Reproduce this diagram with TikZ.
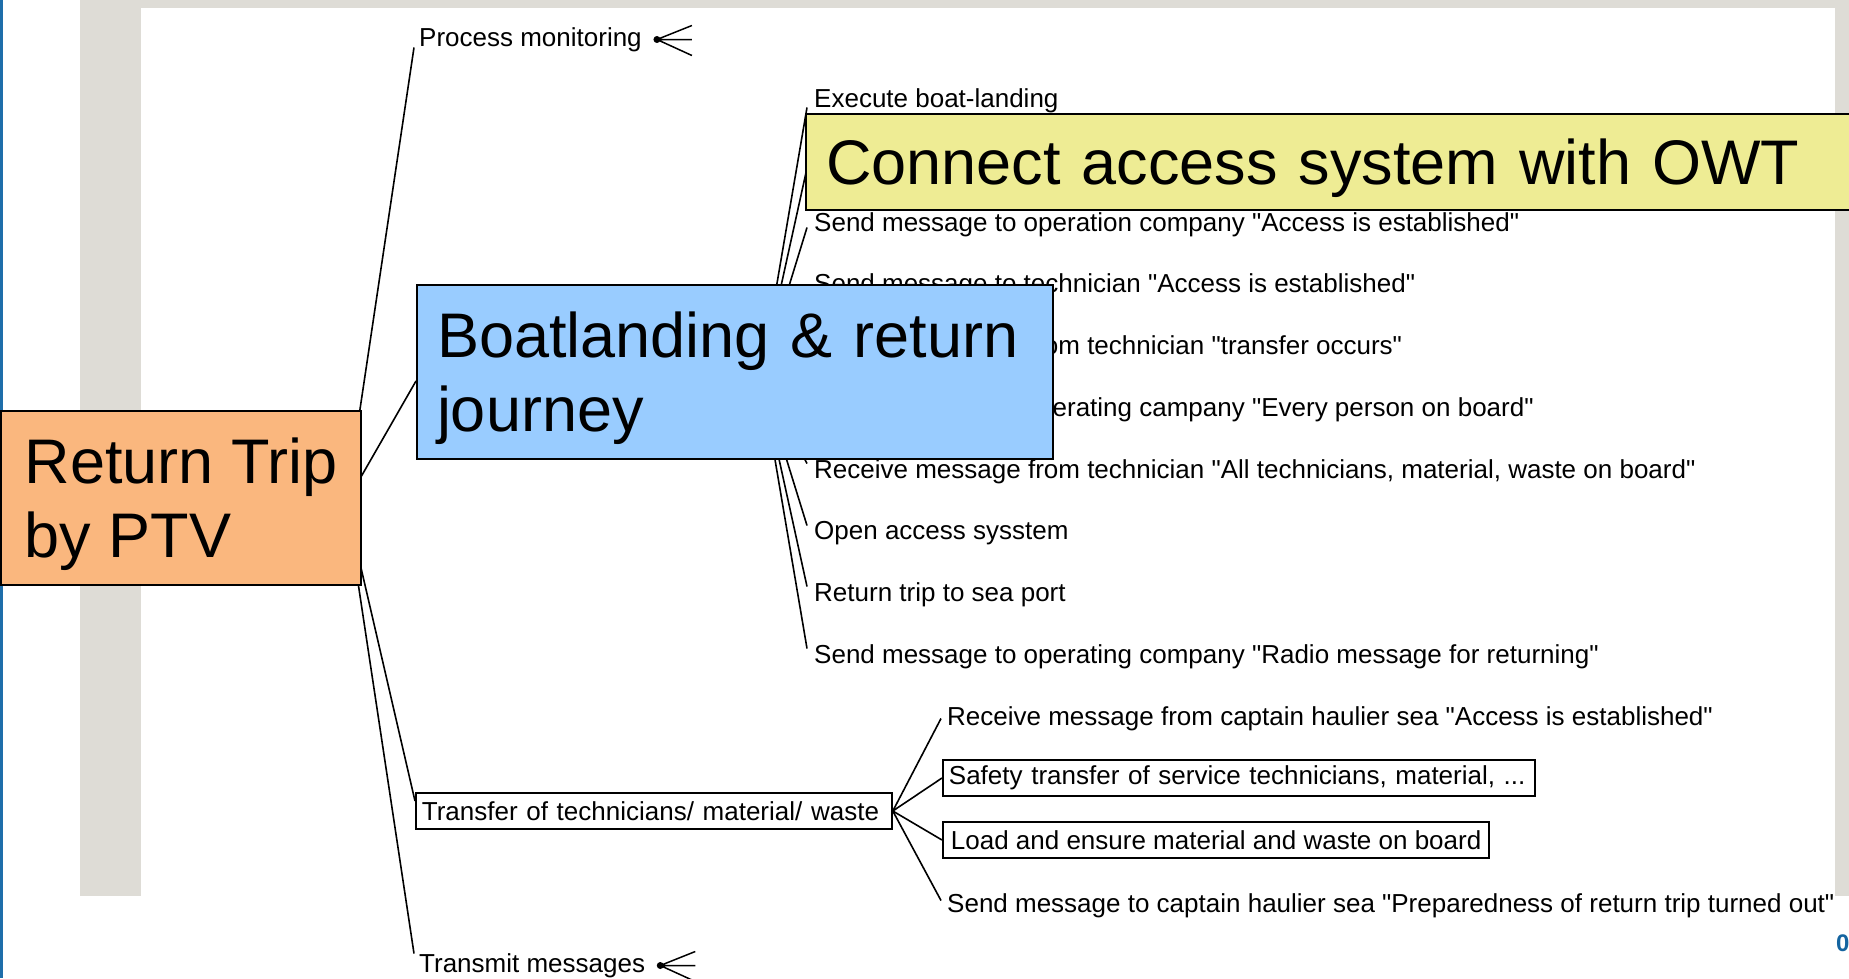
\documentclass[tikz,border=0pt]{standalone}
\usepackage{fontspec}
\setmainfont{Liberation Sans}
\newfontfamily\lblfamily{Liberation Sans}
\usetikzlibrary{calc}
\pgfdeclarelayer{bg}
\pgfdeclarelayer{lines}
\pgfsetlayers{bg,lines,main}
\definecolor{panelgray}{RGB}{222,220,214}
\definecolor{edgeblue}{RGB}{30,110,170}
\definecolor{rootorange}{RGB}{250,183,126}
\definecolor{blblue}{RGB}{153,204,255}
\definecolor{owtyellow}{RGB}{238,236,148}
\definecolor{numblue}{RGB}{20,100,160}
\newcommand\smallfnt{\lblfamily\fontsize{26}{30}\selectfont}
\newcommand\bigfnt{\fontsize{63}{74}\selectfont}
\newcommand\topstrut{\rule{0pt}{58pt}}
\begin{document}
\begin{tikzpicture}[x=1pt,y=-1pt,
  lblbase/.style={anchor=west, inner sep=2pt, font=\smallfnt, text=black},
  lbl/.style={lblbase, yshift=-2.5pt},
  sbox/.style={lblbase, draw, line width=1.8pt, fill=white, inner xsep=6pt, align=left, minimum height=36pt},
  conn/.style={line width=1.6pt},
  bigbox/.style={draw, line width=2pt, font=\bigfnt, align=left, anchor=north west},
  fanmark/.pic={\fill (0,0) circle (3.5); \draw[line width=1.5pt] (0,0) -- (35,-14) (0,0) -- (35,0) (0,0) -- (35,16);}
]
\useasboundingbox (0,0) rectangle (1849,978);

% small labels
\node[lbl] (pm) at (417,37) {Process monitoring};
\node[lbl] (c1) at (812,98) {Execute boat-landing};
\node[lbl] (c3) at (812,222) {Send message to operation company "Access is established"};
\node[lbl] (c4) at (812,283) {Send message to technician "Access is established"};
\node[lbl] (c5) at (812,345) {Receive message from technician "transfer occurs"};
\node[lbl] (c6) at (812,407) {Send message to operating campany "Every person on board"};
\node[lbl] (c7) at (812,469) {Receive message from technician "All technicians, material, waste on board"};
\node[lbl] (c8) at (812,531) {Open access sysstem};
\node[lbl] (c9) at (812,592) {Return trip to sea port};
\node[lbl] (c10) at (812,654) {Send message to operating company "Radio message for returning"};
\node[sbox, text width=464pt] (tr) at (415,811) {Transfer of technicians/ material/ waste};
\node[lbl] (t1) at (945,716) {Receive message from captain haulier sea "Access is established"};
\node[sbox, text width=580pt] (t2) at (942,778) {Safety transfer of service technicians, material, ...};
\node[sbox, inner xsep=8pt] (t3) at (942,840) {Load and ensure material and waste on board};
\node[lbl] (t4) at (945,903) {Send message to captain haulier sea "Preparedness of return trip turned out"};
\node[lbl] (tm) at (417,963) {Transmit messages};
\pic at ($(pm.east)+(13,0)$) {fanmark};
\pic at ($(tm.east)+(13,0)$) {fanmark};

% big boxes
\node[bigbox, fill=rootorange, minimum width=360pt, minimum height=174pt] (root) at (0,410) {\topstrut Return Trip\\by PTV};
\node[bigbox, fill=blblue, minimum width=636pt, minimum height=174pt, text width=596pt, inner xsep=0pt] (bl) at (416,284) {\topstrut Boatlanding \& return\\journey};
\node[bigbox, fill=owtyellow, minimum height=96pt, text width=1006pt, inner xsep=20pt] (owt) at (805,113) {\topstrut Connect access system with OWT};

\node[anchor=west, inner sep=0pt, font=\fontsize{24}{28}\selectfont\bfseries, text=numblue] (pg) at (1836,943) {0};

\begin{pgfonlayer}{bg}
  \fill[white] (0,0) rectangle (1849,978);
  \fill[edgeblue] (0,0) rectangle (2.5,978);
  \fill[panelgray] (80,0) rectangle (1849,896);
  \fill[white] (141,8) rectangle (1835,896);
\end{pgfonlayer}

\begin{pgfonlayer}{lines}
  \coordinate (ro) at (346,503);
  \draw[conn] (ro) -- ($(pm.west)+(-3,8)$);
  \draw[conn] (ro) -- ($(bl.west)+(0,9)$);
  \draw[conn] (ro) -- ($(tr.west)+(0,-10)$);
  \draw[conn] (ro) -- ($(tm.west)+(-3,-12)$);
  \coordinate (blo) at (761,377);
  \coordinate (hid) at (807,168);
  \draw[conn] (blo) -- ($(c1.west)+(-5,7)$);
  \draw[conn] (blo) -- (hid);
  \draw[conn] (blo) -- ($(c3.west)+(-5,3)$);
  \draw[conn] (blo) -- ($(c4.west)+(-5,3)$);
  \draw[conn] (blo) -- ($(c5.west)+(-5,1)$);
  \draw[conn] (blo) -- ($(c6.west)+(-5,-5)$);
  \draw[conn] (blo) -- ($(c7.west)+(-5,-8)$);
  \draw[conn] (blo) -- ($(c8.west)+(-5,-8)$);
  \draw[conn] (blo) -- ($(c9.west)+(-5,-8)$);
  \draw[conn] (blo) -- ($(c10.west)+(-5,-8)$);
  \draw[conn] (tr.east) -- ($(t1.west)+(-4,0)$);
  \draw[conn] (tr.east) -- (t2.west);
  \draw[conn] (tr.east) -- (t3.west);
  \draw[conn] (tr.east) -- ($(t4.west)+(-4,-5)$);
\end{pgfonlayer}
\end{tikzpicture}
\end{document}
